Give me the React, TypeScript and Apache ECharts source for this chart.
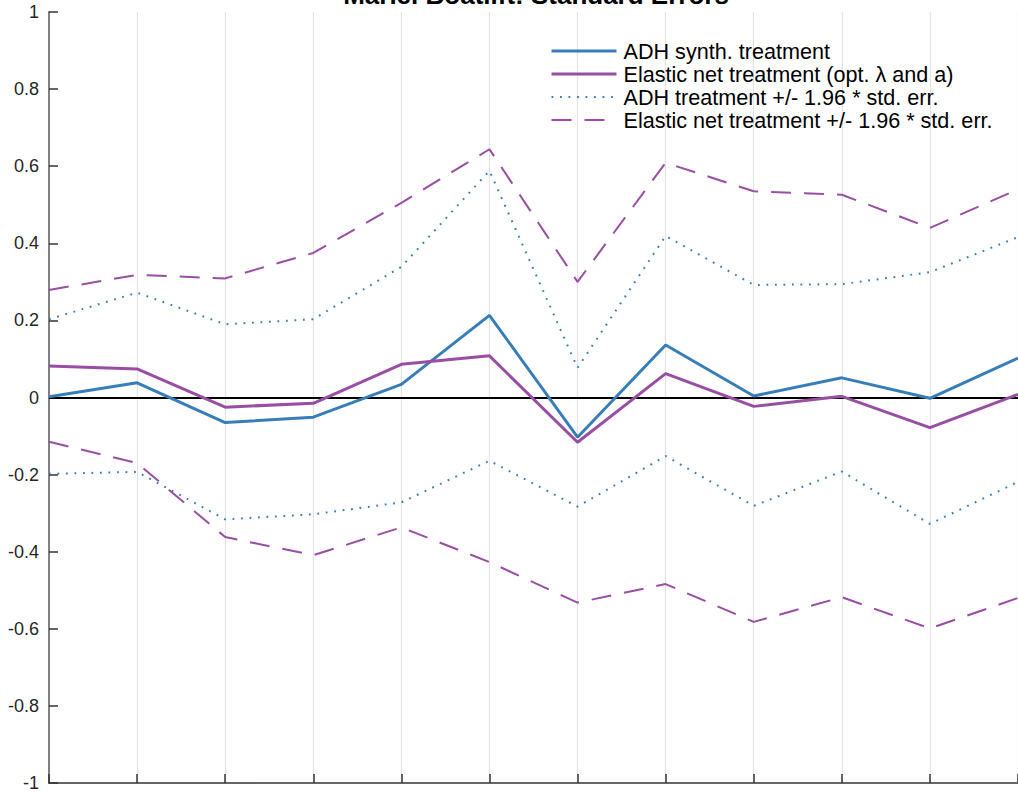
import React, { useEffect, useRef } from "react";
import * as echarts from "echarts";

const periods = [0, 1, 2, 3, 4, 5, 6, 7, 8, 9, 10, 11];
const adhSynth = [0.002, 0.038, -0.065, -0.051, 0.034, 0.213, -0.103, 0.136, 0.004, 0.051, -0.002, 0.102];
const elasticNet = [0.082, 0.074, -0.025, -0.015, 0.086, 0.108, -0.116, 0.062, -0.023, 0.003, -0.078, 0.008];
const adhUpper = [0.203, 0.272, 0.19, 0.203, 0.339, 0.588, 0.077, 0.419, 0.292, 0.294, 0.325, 0.416];
const adhLower = [-0.198, -0.193, -0.316, -0.303, -0.272, -0.164, -0.283, -0.152, -0.281, -0.192, -0.328, -0.219];
const enUpper = [0.279, 0.318, 0.309, 0.375, 0.505, 0.644, 0.3, 0.609, 0.535, 0.526, 0.44, 0.54];
const enLower = [-0.115, -0.17, -0.362, -0.409, -0.337, -0.427, -0.532, -0.484, -0.582, -0.518, -0.599, -0.52];

const TITLE = "Mariel Boatlift: Standard Errors";
const NAMES = [
  "ADH synth. treatment",
  "Elastic net treatment (opt. \u03bb and a)",
  "ADH treatment +/- 1.96 * std. err.",
  "Elastic net treatment +/- 1.96 * std. err.",
];

const BLUE = "#377eb8";
const PURPLE = "#984ea3";
const FONT = "'Liberation Sans', Arial, Helvetica, sans-serif";

const pair = (ys: number[]) => periods.map((x, i) => [x, ys[i]]);

export default function App() {
  const ref = useRef<HTMLDivElement>(null);
  useEffect(() => {
    if (!ref.current) return;
    const chart = echarts.init(ref.current, null, { renderer: "svg" });
    chart.setOption({
      animation: false,
      backgroundColor: "#ffffff",
      textStyle: { fontFamily: FONT },
      graphic: [
        {
          type: "text",
          x: 536,
          y: -5,
          style: {
            text: TITLE,
            align: "center",
            verticalAlign: "middle",
            font: `bold 26px ${FONT}`,
            fill: "#000",
          },
        },
      ],
      grid: { left: 49, right: 0, top: 12, bottom: 10, containLabel: false },
      legend: {
        orient: "vertical",
        left: 550,
        top: 40,
        itemWidth: 65,
        itemHeight: 12,
        itemGap: 1,
        padding: 0,
        itemStyle: { opacity: 0 },
        lineStyle: { width: "inherit" },
        textStyle: { fontSize: 21.6, color: "#000", fontFamily: FONT, padding: [0, 0, 0, 2] },
        data: NAMES,
      },
      xAxis: {
        type: "value",
        min: 0,
        max: 11,
        interval: 1,
        axisLabel: { show: false },
        axisLine: { show: true, onZero: false, lineStyle: { color: "#333", width: 1.5 } },
        axisTick: { show: true, inside: true, length: 9, lineStyle: { color: "#333", width: 1.5 } },
        splitLine: { show: true, lineStyle: { color: "#e3e3e3", width: 1.2 } },
      },
      yAxis: {
        type: "value",
        min: -1,
        max: 1,
        interval: 0.2,
        axisLine: { show: true, onZero: false, lineStyle: { color: "#808080", width: 2 } },
        axisTick: { show: true, inside: true, length: 9, lineStyle: { color: "#333", width: 1.5 } },
        axisLabel: { color: "#262626", fontSize: 18, fontFamily: FONT, margin: 10 },
        splitLine: { show: false },
      },
      series: [
        {
          name: NAMES[0],
          type: "line",
          data: pair(adhSynth),
          symbol: "none",
          lineStyle: { color: BLUE, width: 3 },
          itemStyle: { color: BLUE, opacity: 0 },
          z: 4,
          markLine: {
            silent: true,
            symbol: "none",
            label: { show: false },
            lineStyle: { color: "#000", width: 2, type: "solid", opacity: 1 },
            data: [{ yAxis: 0 }],
            z: 3,
          },
        },
        {
          name: NAMES[1],
          type: "line",
          data: pair(elasticNet),
          symbol: "none",
          lineStyle: { color: PURPLE, width: 3 },
          itemStyle: { color: PURPLE, opacity: 0 },
          z: 4,
        },
        {
          name: NAMES[2],
          type: "line",
          data: pair(adhUpper),
          symbol: "none",
          lineStyle: { color: BLUE, width: 2, type: [1.8, 6.7] },
          itemStyle: { color: BLUE, opacity: 0 },
        },
        {
          name: NAMES[2],
          type: "line",
          data: pair(adhLower),
          symbol: "none",
          lineStyle: { color: BLUE, width: 2, type: [1.8, 6.7] },
          itemStyle: { color: BLUE, opacity: 0 },
        },
        {
          name: NAMES[3],
          type: "line",
          data: pair(enUpper),
          symbol: "none",
          lineStyle: { color: PURPLE, width: 2, type: [20, 13] },
          itemStyle: { color: PURPLE, opacity: 0 },
        },
        {
          name: NAMES[3],
          type: "line",
          data: pair(enLower),
          symbol: "none",
          lineStyle: { color: PURPLE, width: 2, type: [20, 13] },
          itemStyle: { color: PURPLE, opacity: 0 },
        },
      ],
    });
    return () => chart.dispose();
  }, []);
  return (
    <div
      ref={ref}
      style={{ position: "absolute", left: 0, top: 0, width: 1018, height: 793 }}
    />
  );
}
